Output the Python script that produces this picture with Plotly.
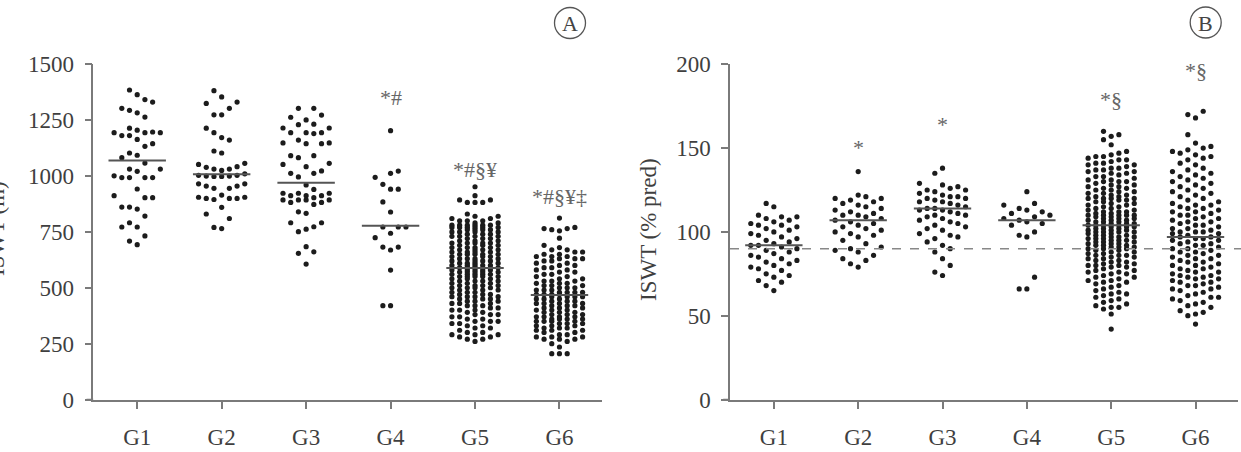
import plotly.graph_objects as go
import numpy as np

# ---------------- data ----------------
categories = ["G1", "G2", "G3", "G4", "G5", "G6"]

# Panel A : ISWT (m)
iswt_m_G1 = [1364, 1385, 1331, 1342, 1283, 1303, 1294, 1264, 1194, 1181, 1194, 1214, 1205, 1197,
             1181, 1194, 1145, 1164, 1133, 1103, 1082, 1093, 1058, 1031, 1021, 1031, 1001, 993,
             993, 993, 993, 942, 903, 903, 912, 861, 852, 861, 821, 791, 772, 772, 732, 693, 709]
iswt_m_G2 = [1382, 1354, 1325, 1331, 1274, 1274, 1303, 1194, 1214, 1161, 1172, 1103, 1112, 1052,
             1042, 1057, 1031, 1039, 1031, 1025, 1003, 1000, 998, 1003, 1000, 998, 1010, 965,
             955, 955, 945, 965, 945, 915, 905, 900, 900, 895, 905, 900, 860, 830, 810, 765, 770]
iswt_m_G3 = [1303, 1303, 1263, 1251, 1273, 1232, 1215, 1230, 1194, 1194, 1190, 1215, 1194, 1145,
             1161, 1148, 1148, 1145, 1091, 1091, 1082, 1052, 1023, 1057, 1042, 1012, 1012, 996,
             960, 923, 912, 923, 940, 903, 912, 912, 923, 893, 893, 882, 893, 882, 873, 893,
             840, 833, 773, 791, 791, 762, 751, 684, 661, 654, 606]
iswt_m_G4 = [1203, 994, 1012, 1022, 941, 941, 963, 884, 839, 772, 772, 772, 744, 724,
             682, 669, 682, 579, 420, 420]
iswt_m_G5 = [952, 912, 893, 893, 882, 882, 882,
             830,
             820, 820, 810, 810, 800, 800, 800,
             790, 790, 780, 780, 780, 780, 780, 780, 770, 770, 770, 770, 770, 770, 760, 760,
             760, 760, 750, 750, 750, 750,
             740, 740, 740, 730, 730, 730, 730, 720, 720, 720, 710, 710, 710, 700, 700, 700,
             700, 700,
             690, 690, 690, 680, 680, 680, 680, 670, 670, 670, 670, 660, 660, 660, 660, 650,
             650, 650, 650, 650,
             640, 640, 640, 630, 630, 630, 630, 620, 620, 620, 620, 610, 610, 610, 610, 600,
             600, 600, 600, 600,
             590, 590, 590, 590, 580, 580, 580, 580, 580, 570, 570, 570, 570, 570, 560, 560,
             560, 560, 560, 550, 550, 550, 550, 550,
             540, 540, 540, 530, 530, 530, 530, 520, 520, 520, 510, 510, 510, 510, 500, 500,
             500, 500,
             490, 490, 490, 480, 480, 480, 470, 470, 470, 460, 460, 460, 460, 450, 450, 450,
             440, 440, 440, 430, 430, 430, 420, 420, 420, 410, 410, 400, 400, 400,
             390, 390, 380, 380, 380, 370, 370, 360, 360, 350, 350, 350,
             340, 340, 330, 330, 320, 320, 310, 300, 300,
             290, 290, 290, 280, 280, 270, 270, 260]
iswt_m_G6 = [812,
             770, 765, 765, 760, 755,
             722,
             690, 680, 670, 670, 660, 660, 650, 650,
             640, 640, 640, 630, 630, 630, 620, 620, 610, 610, 600, 600,
             590, 590, 580, 580, 570, 570, 560, 560, 550, 550,
             540, 540, 530, 530, 530, 520, 520, 520, 510, 510, 510, 500, 500, 500,
             490, 490, 490, 480, 480, 480, 480, 470, 470, 470, 470, 460, 460, 460, 460, 450,
             450, 450,
             440, 440, 440, 430, 430, 430, 430, 420, 420, 420, 410, 410, 410, 400, 400, 400,
             390, 390, 390, 380, 380, 380, 370, 370, 370, 370, 360, 360, 360, 360, 350, 350,
             350, 350,
             340, 340, 340, 330, 330, 330, 320, 320, 320, 310, 310, 310, 300, 300,
             290, 290, 280, 280, 280, 270, 270, 270, 260, 250,
             235, 205, 205, 205]
iswt_m_means = [1070, 1008, 970, 778, 588, 468]
iswt_m_marks = ["", "", "", "*#", "*#§¥", "*#§¥‡"]
iswt_m_mark_y = [None, None, None, 1350, 1027, 907]

# Panel B : ISWT (% pred)
pct_G1 = [117, 115, 110, 109, 109, 108, 107, 106, 105, 104, 104, 103, 102, 101, 100, 99, 98, 97,
          96, 95, 94, 93, 92, 92, 91, 90, 89, 88, 87, 86, 85, 84, 83, 82, 81, 80, 79, 78, 77,
          75, 74, 73, 71, 70, 68, 65]
pct_G2 = [136, 122, 121, 120, 120, 119, 118, 117, 116, 115, 114, 113, 112, 111, 110, 110, 109,
          108, 107, 106, 105, 104, 103, 102, 101, 100, 99, 98, 97, 95, 93, 91, 90, 89, 88, 86,
          84, 83, 81, 79]
pct_G3 = [138, 135, 129, 128, 127, 126, 125, 125, 124, 123, 122, 121, 121, 120, 120, 119, 118,
          118, 117, 116, 115, 114, 114, 113, 113, 112, 111, 110, 110, 109, 108, 107, 106, 105,
          104, 103, 102, 101, 99, 98, 97, 96, 94, 92, 90, 88, 84, 80, 76, 74]
pct_G4 = [124, 117, 116, 114, 113, 112, 111, 110, 109, 108, 107, 106, 105, 104, 100, 98, 97,
          73, 66, 66]
pct_G5 = [160, 158, 157, 155, 152,
          148, 147, 146, 145, 145, 144, 143, 143, 142, 141, 141, 140, 140,
          139, 138, 138, 137, 137, 136, 136, 135, 135, 134, 133, 133, 132, 131, 131, 130, 130,
          130,
          129, 128, 128, 127, 127, 126, 126, 125, 125, 124, 124, 123, 123, 122, 122, 121, 121,
          120, 120, 120, 120,
          119, 119, 118, 118, 117, 117, 116, 116, 115, 115, 114, 114, 113, 113, 112, 112, 112,
          111, 111, 110, 110, 110, 110, 110,
          109, 109, 108, 108, 108, 107, 107, 107, 106, 106, 106, 105, 105, 105, 104, 104, 104,
          104, 103, 103, 103, 102, 102, 102, 101, 101, 101, 100, 100, 100, 100,
          99, 99, 98, 98, 98, 97, 97, 97, 96, 96, 96, 95, 95, 95, 94, 94, 94, 93, 93, 93, 92,
          92, 92, 91, 91, 91, 90, 90, 90,
          89, 89, 88, 88, 87, 87, 86, 86, 86, 85, 85, 84, 84, 83, 83, 82, 82, 81, 81, 80, 80,
          80,
          79, 79, 78, 77, 77, 76, 76, 75, 75, 74, 73, 73, 72, 71, 71, 70, 70,
          69, 68, 67, 66, 65, 64, 63, 63, 62, 61, 60,
          59, 58, 57, 56, 55, 55, 54, 51,
          42]
pct_G6 = [172, 170, 168,
          158, 153, 151, 150,
          149, 148, 147, 146, 145, 144, 143, 141, 140,
          138, 137, 136, 135, 134, 133, 132, 131, 130,
          129, 128, 127, 126, 125, 124, 123, 122, 121, 120,
          119, 118, 117, 116, 116, 115, 114, 114, 113, 112, 112, 111, 110, 110,
          109, 108, 108, 107, 106, 106, 105, 104, 104, 103, 102, 102, 101, 100, 100, 100,
          99, 99, 98, 97, 97, 96, 96, 95, 95, 94, 93, 93, 92, 92, 91, 90, 90,
          89, 88, 88, 87, 86, 86, 85, 84, 84, 83, 82, 82, 81, 80, 80,
          79, 78, 78, 77, 76, 76, 75, 74, 74, 73, 73, 72, 72, 71, 70, 70,
          69, 68, 68, 67, 66, 66, 65, 64, 63, 62, 61, 61, 60,
          59, 58, 57, 56, 55, 53, 52, 51, 50,
          45]
pct_means = [92, 107, 114, 107, 104, 97]
pct_marks = ["", "*", "*", "", "*§", "*§"]
pct_mark_y = [None, 150.6, 164, None, 179, 196]
pct_reference = 90

# ---------------- layout geometry ----------------
W, H = 1241, 452
FONT = "Liberation Serif"
TXT = "#3f3f3f"
AX = "#7a7a7a"

def px_x(p):
    return p / W

def px_y(p):
    return 1 - p / H

A_dom = [px_x(93.3), px_x(601.7)]
B_dom = [px_x(730.0), px_x(1237.7)]
Y_dom = [px_y(399.5), px_y(64.3)]
XR = [-0.52, 5.5]


def swarm(vals, ppu, cat_px, slot_px=7.7, K=3):
    vals = np.asarray(vals, dtype=float)
    n = len(vals)
    span = (vals.max() - vals.min()) * ppu
    dmin = float(np.clip((2 * K + 1) * span / n * 0.85, 5.0, 15.0))
    order = np.argsort(vals, kind="stable")
    slots = [0]
    for k in range(1, K + 1):
        slots += [-k, k]
    placed = {k: [] for k in slots}
    offs = np.zeros(n)
    for i in order:
        y = vals[i] * ppu
        chosen, bestk, bestd = None, 0, -1.0
        for k in slots:
            d = min([abs(y - yy) for yy in placed[k]], default=1e9)
            if d >= dmin:
                chosen = k
                break
            if d > bestd:
                bestd, bestk = d, k
        if chosen is None:
            chosen = bestk
        placed[chosen].append(y)
        offs[i] = chosen * slot_px / cat_px
    return offs


fig = go.Figure()

panels = [
    dict(groups=[iswt_m_G1, iswt_m_G2, iswt_m_G3, iswt_m_G4, iswt_m_G5, iswt_m_G6],
         means=iswt_m_means, marks=iswt_m_marks, mark_y=iswt_m_mark_y,
         xa="x", ya="y", ymax=1500, cat_px=84.4),
    dict(groups=[pct_G1, pct_G2, pct_G3, pct_G4, pct_G5, pct_G6],
         means=pct_means, marks=pct_marks, mark_y=pct_mark_y,
         xa="x2", ya="y2", ymax=200, cat_px=84.5),
]

shapes = []
annotations = []
for p in panels:
    ppu = 335.2 / p["ymax"]
    for ci, vals in enumerate(p["groups"]):
        offs = swarm(vals, ppu, p["cat_px"])
        fig.add_trace(go.Scatter(
            x=ci + offs, y=vals, mode="markers", xaxis=p["xa"], yaxis=p["ya"],
            marker=dict(size=5.2, color="#1c1c1c"), showlegend=False,
            hoverinfo="y", cliponaxis=False))
        shapes.append(dict(type="line", xref=p["xa"], yref=p["ya"],
                           x0=ci - 0.34, x1=ci + 0.34, y0=p["means"][ci], y1=p["means"][ci],
                           line=dict(color="#555555", width=2)))
        if p["marks"][ci]:
            annotations.append(dict(xref=p["xa"], yref=p["ya"], x=ci, y=p["mark_y"][ci],
                                    text=p["marks"][ci], showarrow=False,
                                    font=dict(family=FONT, size=22, color="#666666")))
    # extension of x-axis line left of y-axis
    shapes.append(dict(type="line", xref=p["xa"] + " domain", yref=p["ya"],
                       x0=-6.8 / 508, x1=0, y0=0, y1=0, line=dict(color=AX, width=1.5)))

# reference dashed line on panel B
shapes.append(dict(type="line", xref="x2 domain", yref="y2", x0=0, x1=(W - 730) / 507.7,
                   y0=pct_reference, y1=pct_reference,
                   line=dict(color="#888888", width=1.5, dash="dash")))

# circled panel letters
for cx, cy, r, letter in [(570, 23, 15.5, "A"), (1205.7, 22.5, 15.5, "B")]:
    shapes.append(dict(type="circle", xref="paper", yref="paper",
                       x0=px_x(cx - r), x1=px_x(cx + r), y0=px_y(cy + r), y1=px_y(cy - r),
                       line=dict(color="#555555", width=1.3)))
    annotations.append(dict(xref="paper", yref="paper", x=px_x(cx), y=px_y(cy + 1),
                            text=letter, showarrow=False, xanchor="center", yanchor="middle",
                            font=dict(family=FONT, size=22, color="#444444")))

# y-axis titles
annotations.append(dict(xref="paper", yref="paper", x=px_x(-3), y=px_y(229),
                        text="ISWT (m)", textangle=-90, showarrow=False,
                        xanchor="center", yanchor="middle",
                        font=dict(family=FONT, size=23, color=TXT)))
annotations.append(dict(xref="paper", yref="paper", x=px_x(648), y=px_y(230),
                        text="ISWT (% pred)", textangle=-90, showarrow=False,
                        xanchor="center", yanchor="middle",
                        font=dict(family=FONT, size=23, color=TXT)))

common_x = dict(range=XR, tickmode="array", tickvals=list(range(6)), ticktext=categories,
                showline=True, linecolor=AX, linewidth=1.5, ticks="outside", ticklen=8,
                tickwidth=1.5, tickcolor=AX, showgrid=False, zeroline=False,
                tickfont=dict(family=FONT, size=23, color=TXT), ticklabelstandoff=8,
                automargin=False, fixedrange=True)
common_y = dict(showline=True, linecolor=AX, linewidth=1.5, ticks="outside", ticklen=7,
                tickwidth=1.5, tickcolor=AX, showgrid=False, zeroline=False,
                tickfont=dict(family=FONT, size=23, color=TXT), ticklabelstandoff=6,
                automargin=False, domain=Y_dom, fixedrange=True)

fig.update_layout(
    template="none",
    width=W, height=H, margin=dict(l=0, r=0, t=0, b=0, pad=0),
    paper_bgcolor="white", plot_bgcolor="white",
    xaxis=dict(domain=A_dom, anchor="y", **common_x),
    yaxis=dict(anchor="x", range=[0, 1500], tickvals=[0, 250, 500, 750, 1000, 1250, 1500],
               **common_y),
    xaxis2=dict(domain=B_dom, anchor="y2", **common_x),
    yaxis2=dict(anchor="x2", range=[0, 200], tickvals=[0, 50, 100, 150, 200], **common_y),
    shapes=shapes, annotations=annotations,
)

fig.write_html("out.html")
